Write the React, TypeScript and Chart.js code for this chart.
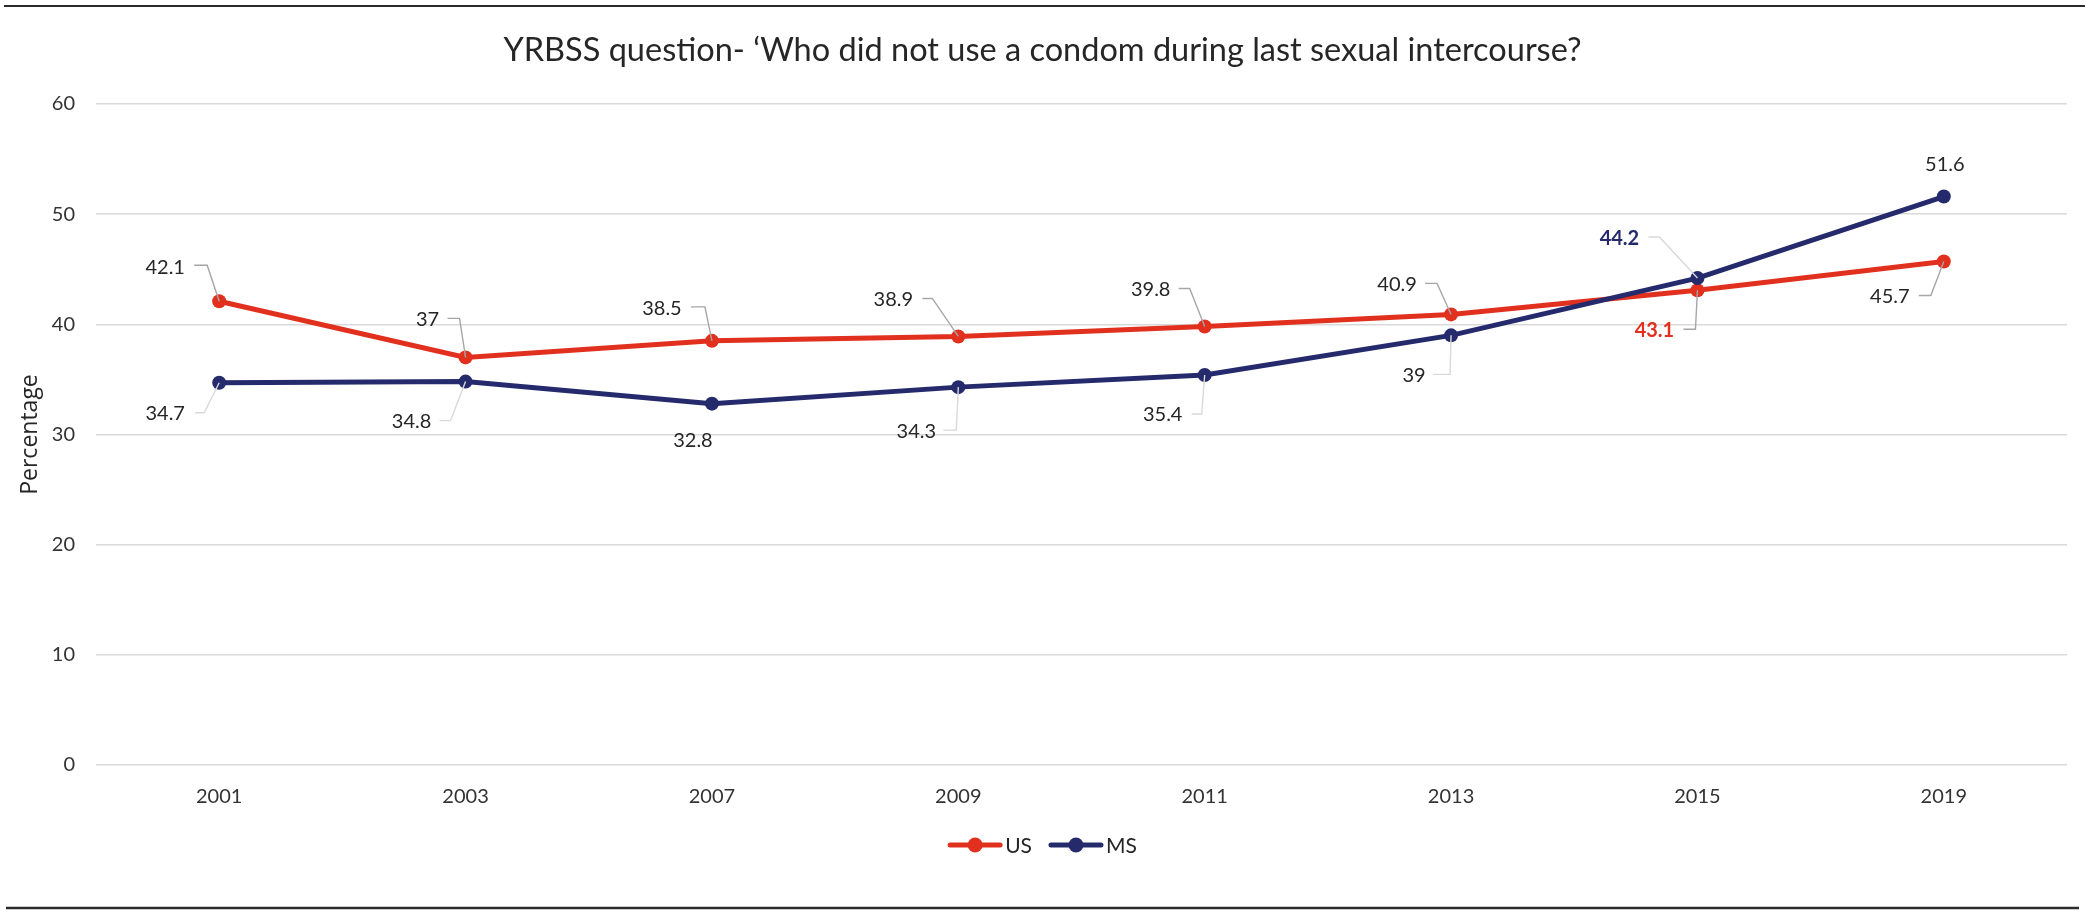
import React, { useEffect, useRef } from "react";
import { Chart, registerables } from "chart.js";

Chart.register(...registerables);

// ---------- data ----------
const TITLE = "YRBSS question- \u2018Who did not use a condom during last sexual intercourse?";
const Y_TITLE = "Percentage";
const years = ["2001", "2003", "2007", "2009", "2011", "2013", "2015", "2019"];
const usValues = [42.1, 37, 38.5, 38.9, 39.8, 40.9, 43.1, 45.7];
const msValues = [34.7, 34.8, 32.8, 34.3, 35.4, 39, 44.2, 51.6];
const Y_MIN = 0;
const Y_MAX = 60;
const Y_STEP = 10;

// ---------- styles ----------
const US_COLOR = "#e2301f";
const MS_COLOR = "#252a6c";
const TEXT_COLOR = "#262626";
const TICK_COLOR = "#333333";
const GRID_COLOR = "#d9d9d9";
const FONT = "Lato";

// data-label layout (offsets from the point, in px): text centre, leader start and corner
type LabelSpec = { dx: number; dy: number; leader?: [number, number, number, number]; bold?: boolean };
const usLabelLayout: LabelSpec[] = [
  { dx: -54, dy: -34, leader: [-25, -36, -12, -36] },
  { dx: -38, dy: -38, leader: [-18, -39, -6, -39] },
  { dx: -50, dy: -32, leader: [-21, -34, -7, -34] },
  { dx: -65, dy: -37, leader: [-36, -38, -26, -38] },
  { dx: -54, dy: -37, leader: [-26, -38, -15, -38] },
  { dx: -54, dy: -30, leader: [-26, -31, -14, -31] },
  { dx: -43, dy: 40, leader: [-14, 39, -2, 39], bold: true },
  { dx: -54, dy: 35, leader: [-25, 34, -13, 34] },
];
const msLabelLayout: LabelSpec[] = [
  { dx: -54, dy: 31, leader: [-24, 30, -15, 30] },
  { dx: -54, dy: 40, leader: [-26, 39, -15, 39] },
  { dx: -19, dy: 37 },
  { dx: -42, dy: 44, leader: [-15, 43, -2, 43] },
  { dx: -42, dy: 40, leader: [-13, 39, -3, 39] },
  { dx: -37, dy: 40, leader: [-18, 39, -1, 39] },
  { dx: -78, dy: -40, leader: [-49, -41, -38, -41], bold: true },
  { dx: 1, dy: -32 },
];

const leaderLabelPlugin = {
  id: "leaderLabels",
  afterDatasetsDraw(chart: any) {
    const ctx = chart.ctx as CanvasRenderingContext2D;
    chart.data.datasets.forEach((ds: any, i: number) => {
      const meta = chart.getDatasetMeta(i);
      const layout: LabelSpec[] = ds.labelLayout;
      meta.data.forEach((pt: any, j: number) => {
        const spec = layout[j];
        const x = pt.x;
        const y = pt.y;
        if (spec.leader) {
          const [sx, sy, cx, cy] = spec.leader;
          ctx.save();
          ctx.strokeStyle = ds.leaderColor;
          ctx.lineWidth = 1.4;
          ctx.beginPath();
          ctx.moveTo(x + sx, y + sy);
          ctx.lineTo(x + cx, y + cy);
          ctx.lineTo(x, y);
          ctx.stroke();
          ctx.restore();
        }
        ctx.save();
        ctx.font = `${spec.bold ? "bold " : ""}20px ${FONT}`;
        ctx.fillStyle = spec.bold ? ds.borderColor : TEXT_COLOR;
        ctx.textAlign = "center";
        ctx.textBaseline = "middle";
        ctx.fillText(String(ds.data[j]), x + spec.dx, y + spec.dy);
        ctx.restore();
      });
    });
  },
};

const decorPlugin = {
  id: "decor",
  afterDraw(chart: any) {
    const ctx = chart.ctx as CanvasRenderingContext2D;
    const W = chart.width;
    const H = chart.height;
    ctx.save();
    // frame lines
    ctx.strokeStyle = "#2b2b2b";
    ctx.lineWidth = 2;
    ctx.beginPath();
    ctx.moveTo(4, 6);
    ctx.lineTo(W, 6);
    ctx.stroke();
    ctx.lineWidth = 2.5;
    ctx.beginPath();
    ctx.moveTo(6, H - 7);
    ctx.lineTo(W - 6, H - 7);
    ctx.stroke();
    // title
    ctx.font = `32.5px ${FONT}`;
    ctx.fillStyle = TEXT_COLOR;
    ctx.textAlign = "center";
    ctx.textBaseline = "alphabetic";
    ctx.fillText(TITLE, W / 2, 61);
    // legend
    const lineLen = 54;
    const gapText = 3;
    const gapItem = 17;
    const legendY = 845;
    ctx.font = `21px ${FONT}`;
    const items = chart.data.datasets.map((ds: any) => ({
      label: ds.label,
      color: ds.borderColor,
      w: lineLen + gapText + ctx.measureText(ds.label).width,
    }));
    const total = items.reduce((s: number, it: any) => s + it.w, 0) + gapItem * (items.length - 1);
    let x = W / 2 - total / 2;
    items.forEach((it: any) => {
      ctx.strokeStyle = it.color;
      ctx.lineWidth = 5;
      ctx.lineCap = "round";
      ctx.beginPath();
      ctx.moveTo(x + 2, legendY);
      ctx.lineTo(x + lineLen - 2, legendY);
      ctx.stroke();
      ctx.fillStyle = it.color;
      ctx.beginPath();
      ctx.arc(x + lineLen / 2, legendY, 7.5, 0, Math.PI * 2);
      ctx.fill();
      ctx.fillStyle = TEXT_COLOR;
      ctx.textAlign = "left";
      ctx.textBaseline = "middle";
      ctx.fillText(it.label, x + lineLen + gapText, legendY + 1);
      x += it.w + gapItem;
    });
    ctx.restore();
  },
};

export default function App() {
  const canvasRef = useRef<HTMLCanvasElement | null>(null);

  useEffect(() => {
    if (!canvasRef.current) return;
    const chart = new Chart(canvasRef.current, {
      type: "line",
      data: {
        labels: years,
        datasets: [
          {
            label: "US",
            data: usValues,
            borderColor: US_COLOR,
            backgroundColor: US_COLOR,
            pointBackgroundColor: US_COLOR,
            pointBorderColor: US_COLOR,
            borderWidth: 5,
            pointRadius: 7,
            pointBorderWidth: 0,
            tension: 0,
            order: 1,
            labelLayout: usLabelLayout,
            leaderColor: "#a6a6a6",
          } as any,
          {
            label: "MS",
            data: msValues,
            borderColor: MS_COLOR,
            backgroundColor: MS_COLOR,
            pointBackgroundColor: MS_COLOR,
            pointBorderColor: MS_COLOR,
            borderWidth: 5,
            pointRadius: 7,
            pointBorderWidth: 0,
            tension: 0,
            order: 0,
            labelLayout: msLabelLayout,
            leaderColor: "#d9d9d9",
          } as any,
        ],
      },
      options: {
        responsive: false,
        animation: false,
        layout: { padding: { left: 0, right: 18, top: 104, bottom: 86 } },
        plugins: {
          legend: { display: false },
          title: { display: false },
          tooltip: { enabled: false },
        },
        scales: {
          x: {
            offset: true,
            grid: { display: false, drawTicks: false },
            border: { display: false },
            ticks: { padding: 20, color: TICK_COLOR, font: { family: FONT, size: 20 } },
          },
          y: {
            min: Y_MIN,
            max: Y_MAX,
            grid: { color: GRID_COLOR, lineWidth: 1.5, drawTicks: false },
            border: { display: false },
            ticks: { stepSize: Y_STEP, padding: 21, color: TICK_COLOR, font: { family: FONT, size: 20 } },
            title: {
              display: true,
              text: Y_TITLE,
              color: TEXT_COLOR,
              font: { family: "Open Sans", size: 23 },
              padding: { top: 17, bottom: 0 },
            },
            afterFit: (scale: any) => {
              scale.width = 96;
            },
          },
        },
      } as any,
      plugins: [leaderLabelPlugin, decorPlugin],
    });
    return () => chart.destroy();
  }, []);

  return (
    <div style={{ position: "absolute", left: 0, top: 0, width: 2085, height: 915, background: "#ffffff" }}>
      <canvas ref={canvasRef} width={2085} height={915} style={{ display: "block" }} />
    </div>
  );
}
